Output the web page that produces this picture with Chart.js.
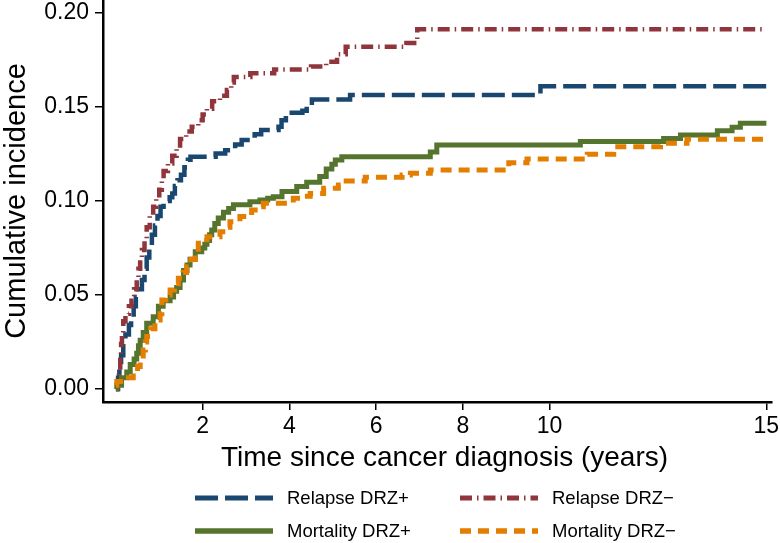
<!DOCTYPE html>
<html>
<head>
<meta charset="utf-8">
<script src="https://cdn.jsdelivr.net/npm/chart.js@4.4.1/dist/chart.umd.min.js"></script>
<style>
  html, body { margin: 0; padding: 0; background: #fff; }
  #wrap { position: relative; width: 780px; height: 543px; }
  #chartBox { position: absolute; left: 0; top: 0; width: 780px; height: 543px; }
  .leg { position: absolute; font-family: 'Liberation Sans', Arial, sans-serif; font-size: 18.5px; color: #000; line-height: 22px; white-space: nowrap; }
  .legsvg { position: absolute; }
</style>
</head>
<body>
<div id="wrap">
  <div id="chartBox"><canvas id="c"></canvas></div>
  <svg class="legsvg" style="left:0;top:0" width="780" height="543" id="legsvg"></svg>
  <div class="leg" style="left:287px; top:487px;">Relapse DRZ+</div>
  <div class="leg" style="left:552px; top:487px;">Relapse DRZ−</div>
  <div class="leg" style="left:287px; top:520px;">Mortality DRZ+</div>
  <div class="leg" style="left:552px; top:520px;">Mortality DRZ−</div>
</div>
<script>
// ---- Data ----
const xTickValues = [2, 4, 6, 8, 10, 15];
const yTickValues = [0, 0.05, 0.10, 0.15, 0.20];

const seriesNames = ["Relapse DRZ+", "Relapse DRZ−", "Mortality DRZ+", "Mortality DRZ−"];

const relapsePosTime = [0, 0.05, 0.08, 0.12, 0.17, 0.22, 0.30, 0.35, 0.41, 0.46, 0.52, 0.60, 0.66, 0.71, 0.77, 0.83, 0.90, 0.96, 1.03, 1.10, 1.24, 1.30, 1.36, 1.42, 1.50, 1.58, 1.66, 1.72, 2.30, 2.52, 2.75, 2.90, 3.20, 3.35, 3.75, 3.82, 3.92, 4.30, 4.40, 4.52, 5.40, 9.79, 15.0];
const relapsePosCI   = [0, 0.006, 0.012, 0.018, 0.024, 0.029, 0.034, 0.038, 0.044, 0.049, 0.053, 0.058, 0.064, 0.070, 0.076, 0.082, 0.087, 0.092, 0.097, 0.100, 0.102, 0.104, 0.108, 0.111, 0.114, 0.118, 0.122, 0.1235, 0.1253, 0.127, 0.130, 0.1325, 0.1355, 0.1378, 0.1395, 0.143, 0.147, 0.148, 0.151, 0.154, 0.1564, 0.161, 0.161];

const relapseNegTime = [0, 0.04, 0.07, 0.10, 0.12, 0.14, 0.17, 0.22, 0.30, 0.36, 0.42, 0.48, 0.52, 0.56, 0.60, 0.66, 0.71, 0.78, 0.86, 0.93, 1.00, 1.06, 1.10, 1.20, 1.30, 1.40, 1.48, 1.62, 1.75, 1.90, 2.00, 2.10, 2.22, 2.40, 2.56, 2.66, 2.72, 3.10, 3.65, 4.50, 4.85, 5.10, 5.30, 6.70, 6.95, 15.0];
const relapseNegCI   = [0, 0.004, 0.010, 0.017, 0.024, 0.030, 0.036, 0.040, 0.044, 0.047, 0.053, 0.058, 0.064, 0.069, 0.074, 0.080, 0.086, 0.092, 0.097, 0.101, 0.106, 0.111, 0.116, 0.120, 0.124, 0.128, 0.133, 0.137, 0.1395, 0.143, 0.146, 0.149, 0.153, 0.156, 0.159, 0.163, 0.166, 0.168, 0.170, 0.1715, 0.174, 0.178, 0.182, 0.184, 0.1913, 0.1913];

const mortPosTime = [0, 0.02, 0.13, 0.25, 0.33, 0.42, 0.48, 0.52, 0.56, 0.63, 0.71, 0.86, 0.98, 1.09, 1.25, 1.33, 1.40, 1.48, 1.56, 1.64, 1.71, 1.83, 1.98, 2.05, 2.10, 2.16, 2.21, 2.28, 2.36, 2.48, 2.60, 2.71, 3.09, 3.32, 3.50, 3.63, 3.83, 4.17, 4.40, 4.70, 4.85, 4.98, 5.06, 5.21, 7.17, 7.25, 7.40, 10.71, 12.63, 13.02, 13.87, 14.21, 14.40, 15.0];
const mortPosCI   = [0, 0.002, 0.006, 0.009, 0.013, 0.016, 0.019, 0.023, 0.026, 0.030, 0.035, 0.0385, 0.044, 0.047, 0.049, 0.052, 0.054, 0.058, 0.063, 0.066, 0.069, 0.073, 0.075, 0.077, 0.079, 0.082, 0.0846, 0.088, 0.091, 0.094, 0.096, 0.098, 0.0996, 0.1005, 0.1015, 0.1023, 0.105, 0.1077, 0.110, 0.113, 0.117, 0.1195, 0.1218, 0.1236, 0.1236, 0.126, 0.1298, 0.1316, 0.1333, 0.1351, 0.1374, 0.1392, 0.1413, 0.1413];

const mortNegTime = [0, 0.02, 0.29, 0.40, 0.50, 0.56, 0.63, 0.68, 0.71, 0.80, 0.90, 1.02, 1.06, 1.15, 1.25, 1.35, 1.44, 1.55, 1.63, 1.73, 1.83, 1.90, 2.10, 2.40, 2.55, 2.63, 2.86, 3.13, 3.30, 3.40, 4.09, 4.30, 4.48, 4.79, 5.13, 5.25, 5.75, 6.60, 6.79, 7.25, 9.06, 9.48, 10.87, 11.48, 12.56, 13.17, 15.0];
const mortNegCI   = [0.002, 0.004, 0.006, 0.0085, 0.012, 0.0154, 0.0207, 0.025, 0.028, 0.032, 0.0367, 0.040, 0.0473, 0.050, 0.0527, 0.056, 0.0589, 0.062, 0.065, 0.069, 0.072, 0.0775, 0.081, 0.0837, 0.086, 0.089, 0.0917, 0.0952, 0.097, 0.0988, 0.1014, 0.1025, 0.104, 0.1068, 0.1085, 0.1106, 0.1126, 0.1138, 0.1147, 0.1165, 0.1204, 0.1223, 0.1248, 0.1289, 0.1307, 0.1328, 0.1328];

// ---- Styles ----
const colors = ["#1a476f", "#90353b", "#55752f", "#e37e00"];
const dashes = [[23, 7], [12, 5, 1.5, 5], [], [11, 7]];
const widths = [4.5, 4.5, 5, 5];

const FONT = "'Liberation Sans', Arial, sans-serif";
Chart.defaults.font.family = FONT;
Chart.defaults.color = "#000";

function pts(t, v) { return t.map((x, i) => ({ x: x, y: v[i] })); }
const allData = [pts(relapsePosTime, relapsePosCI), pts(relapseNegTime, relapseNegCI), pts(mortPosTime, mortPosCI), pts(mortNegTime, mortNegCI)];

const datasets = allData.map((d, i) => ({
  label: seriesNames[i],
  data: d,
  borderColor: colors[i],
  backgroundColor: colors[i],
  borderWidth: widths[i],
  borderDash: dashes[i],
  borderCapStyle: 'butt',
  borderJoinStyle: 'miter',
  stepped: 'before',
  pointRadius: 0,
  fill: false,
  tension: 0,
  order: 4 - i
}));

// shift the x-axis title slightly to the right (as in the reference)
function patchTitle(s, dx, dy) {
  if (s._titlePatched) return;
  const orig = s.drawTitle.bind(s);
  s.drawTitle = function () {
    const ctx = this.ctx;
    ctx.save();
    ctx.translate(dx, dy);
    orig();
    ctx.restore();
  };
  s._titlePatched = true;
}

new Chart(document.getElementById('c'), {
  type: 'line',
  data: { datasets: datasets },
  options: {
    responsive: true,
    maintainAspectRatio: false,
    animation: false,
    layout: { padding: { left: 0, right: 8, top: 0, bottom: 68 } },
    plugins: { legend: { display: false }, tooltip: { enabled: false } },
    scales: {
      x: {
        type: 'linear',
        min: -0.2975,
        max: 15.13,
        afterBuildTicks: (s) => { s.ticks = xTickValues.map(v => ({ value: v })); },
        afterFit: (s) => { s.height = 73; s.paddingLeft = 0; s.paddingRight = 0; patchTitle(s, 7, 0); },
        border: { display: true, color: '#000', width: 2.5 },
        grid: { display: true, drawOnChartArea: false, drawTicks: true, tickLength: 8, color: '#000', lineWidth: 1.5 },
        ticks: { autoSkip: false, maxRotation: 0, padding: 3, font: { size: 23 }, color: '#000', callback: (v) => String(v) },
        title: { display: true, text: 'Time since cancer diagnosis (years)', font: { size: 28 }, color: '#000', padding: { top: 0, bottom: 0 } }
      },
      y: {
        type: 'linear',
        min: -0.0069,
        max: 0.2069,
        afterBuildTicks: (s) => { s.ticks = yTickValues.map(v => ({ value: v })); },
        afterFit: (s) => { s.width = 103; s.paddingTop = 0; s.paddingBottom = 0; },
        border: { display: true, color: '#000', width: 2.5 },
        grid: { display: true, drawOnChartArea: false, drawTicks: true, tickLength: 8, color: '#000', lineWidth: 1.5 },
        ticks: { autoSkip: false, padding: 6, font: { size: 23 }, color: '#000', callback: (v) => Number(v).toFixed(2) },
        title: { display: true, text: 'Cumulative incidence', font: { size: 29 }, color: '#000', padding: { top: 0, bottom: 0 } }
      }
    }
  }
});

// ---- HTML/SVG legend ----
const legendPos = [
  { x1: 195, x2: 273, y: 498 },
  { x1: 460, x2: 538, y: 498 },
  { x1: 195, x2: 273, y: 531 },
  { x1: 460, x2: 538, y: 531 }
];
const svg = document.getElementById('legsvg');
legendPos.forEach((p, i) => {
  const ln = document.createElementNS('http://www.w3.org/2000/svg', 'line');
  ln.setAttribute('x1', p.x1); ln.setAttribute('x2', p.x2);
  ln.setAttribute('y1', p.y); ln.setAttribute('y2', p.y);
  ln.setAttribute('stroke', colors[i]);
  ln.setAttribute('stroke-width', widths[i] + 0.5);
  if (dashes[i].length) ln.setAttribute('stroke-dasharray', dashes[i].join(' '));
  svg.appendChild(ln);
});
</script>
</body>
</html>
